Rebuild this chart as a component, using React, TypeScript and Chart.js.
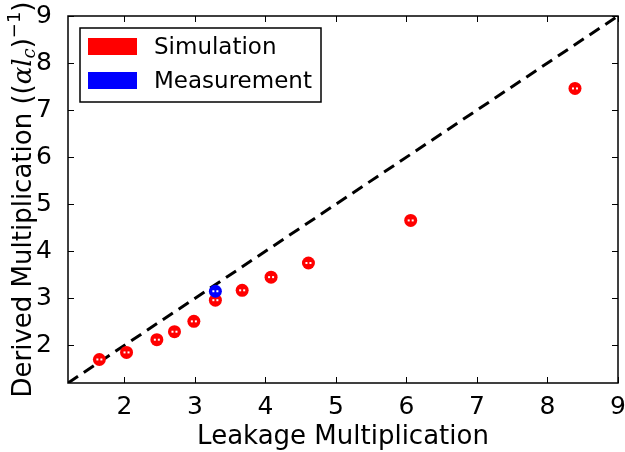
import React, { useEffect, useRef } from "react";
import { Chart, registerables } from "chart.js";

Chart.register(...registerables);

// Leakage vs. derived multiplication values
const simulationX = [1.645, 2.03, 2.46, 2.71, 2.985, 3.29, 3.67, 4.08, 4.61, 6.06, 8.39];
const simulationY = [1.7, 1.85, 2.12, 2.29, 2.51, 2.96, 3.17, 3.45, 3.75, 4.655, 7.46];
const measurementX = [3.29];
const measurementY = [3.15];

// Identity reference line endpoints
const identityLine = [1.2, 9];

const xTicks = [2, 3, 4, 5, 6, 7, 8, 9];
const yTicks = [2, 3, 4, 5, 6, 7, 8, 9];
const axisMin = 1.2;
const axisMax = 9;

const legendItems = [
  { label: "Simulation", color: "#ff0000" },
  { label: "Measurement", color: "#0000ff" },
];

const FONT = '"DejaVu Sans", sans-serif';

const decorPlugin = {
  id: "decor",
  afterDatasetsDraw(chart: any) {
    const ctx = chart.ctx;
    // tiny white error-bar marks inside each marker
    ctx.save();
    ctx.fillStyle = "#ffffff";
    [0, 1].forEach((di) => {
      const meta = chart.getDatasetMeta(di);
      meta.data.forEach((el: any) => {
        ctx.fillRect(el.x - 3, el.y - 1, 2, 2);
        ctx.fillRect(el.x + 1, el.y - 1, 2, 2);
      });
    });
    ctx.restore();
  },
  afterDraw(chart: any) {
    const ctx = chart.ctx;
    const { left, right, top, bottom } = chart.chartArea;
    const xs = chart.scales.x;
    const ys = chart.scales.y;
    ctx.save();

    // frame
    ctx.strokeStyle = "#000";
    ctx.lineWidth = 1.5;
    ctx.strokeRect(left, top, right - left, bottom - top);

    // inward ticks on all four sides
    const tl = 6;
    ctx.lineWidth = 1;
    ctx.beginPath();
    xTicks.forEach((v) => {
      const px = Math.round(xs.getPixelForValue(v)) + 0.5;
      ctx.moveTo(px, bottom);
      ctx.lineTo(px, bottom - tl);
      ctx.moveTo(px, top);
      ctx.lineTo(px, top + tl);
    });
    yTicks.forEach((v) => {
      const py = Math.round(ys.getPixelForValue(v)) + 0.5;
      ctx.moveTo(left, py);
      ctx.lineTo(left + tl, py);
      ctx.moveTo(right, py);
      ctx.lineTo(right - tl, py);
    });
    ctx.stroke();

    // legend
    const lx = left + 12;
    const ly = top + 12;
    const lw = 241;
    const lh = 74;
    ctx.fillStyle = "#fff";
    ctx.fillRect(lx, ly, lw, lh);
    ctx.strokeStyle = "#000";
    ctx.lineWidth = 1.5;
    ctx.strokeRect(lx, ly, lw, lh);
    ctx.font = `23px ${FONT}`;
    ctx.textBaseline = "middle";
    ctx.textAlign = "left";
    legendItems.forEach((item, i) => {
      const cy = ly + 18.5 + i * 34;
      ctx.fillStyle = item.color;
      ctx.fillRect(lx + 8, cy - 8.5, 49, 17);
      ctx.fillStyle = "#000";
      ctx.fillText(item.label, lx + 74, cy + 2);
    });

    // x axis title
    ctx.font = `26px ${FONT}`;
    ctx.textAlign = "center";
    ctx.textBaseline = "alphabetic";
    ctx.fillStyle = "#000";
    ctx.fillText("Leakage Multiplication", (left + right) / 2, 444);

    // y axis title with math part
    const parts: { t: string; font: string; dy: number }[] = [
      { t: "Derived Multiplication ((", font: `26px ${FONT}`, dy: 0 },
      { t: "αl", font: `italic 26px "DejaVu Serif", serif`, dy: 0 },
      { t: "c", font: `italic 18px "DejaVu Serif", serif`, dy: 4 },
      { t: ")", font: `26px ${FONT}`, dy: 0 },
      { t: "−1", font: `18px ${FONT}`, dy: -11 },
      { t: ")", font: `26px ${FONT}`, dy: 0 },
    ];
    let total = 0;
    const widths = parts.map((p) => {
      ctx.font = p.font;
      const w = ctx.measureText(p.t).width;
      total += w;
      return w;
    });
    ctx.translate(31, (top + bottom) / 2);
    ctx.rotate(-Math.PI / 2);
    ctx.textAlign = "left";
    let cx = -total / 2;
    parts.forEach((p, i) => {
      ctx.font = p.font;
      ctx.fillText(p.t, cx, p.dy);
      cx += widths[i];
    });
    ctx.restore();
  },
};

export default function App() {
  const ref = useRef<HTMLCanvasElement | null>(null);

  useEffect(() => {
    if (!ref.current) return;
    const chart = new Chart(ref.current, {
      type: "scatter",
      data: {
        datasets: [
          {
            label: "Measurement",
            data: measurementX.map((x, i) => ({ x, y: measurementY[i] })),
            backgroundColor: "#0000ff",
            borderWidth: 0,
            pointRadius: 6.5,
            order: 0,
          },
          {
            label: "Simulation",
            data: simulationX.map((x, i) => ({ x, y: simulationY[i] })),
            backgroundColor: "#ff0000",
            borderWidth: 0,
            pointRadius: 6.5,
            order: 1,
          },
          {
            type: "line",
            label: "identity",
            data: identityLine.map((v) => ({ x: v, y: v })),
            borderColor: "#000",
            borderWidth: 3,
            borderDash: [12, 7],
            pointRadius: 0,
            fill: false,
            order: 2,
          } as any,
        ],
      },
      options: {
        animation: false,
        responsive: false,
        devicePixelRatio: 1,
        layout: { padding: { left: 0, top: 16, right: 7, bottom: 0 } },
        plugins: { legend: { display: false }, tooltip: { enabled: false } },
        scales: {
          x: {
            type: "linear",
            min: axisMin,
            max: axisMax,
            grid: { display: false },
            border: { display: false },
            afterBuildTicks: (s: any) => {
              s.ticks = xTicks.map((v) => ({ value: v }));
            },
            afterFit: (s: any) => {
              s.height = 69;
              s.paddingLeft = 0;
              s.paddingRight = 0;
            },
            ticks: {
              color: "#000",
              padding: 1,
              maxRotation: 0,
              autoSkip: false,
              font: { family: FONT, size: 25 },
            },
          },
          y: {
            type: "linear",
            min: axisMin,
            max: axisMax,
            grid: { display: false },
            border: { display: false },
            afterBuildTicks: (s: any) => {
              s.ticks = yTicks.map((v) => ({ value: v }));
            },
            afterFit: (s: any) => {
              s.width = 68;
              s.paddingTop = 0;
              s.paddingBottom = 0;
            },
            ticks: {
              color: "#000",
              padding: 8,
              autoSkip: false,
              font: { family: FONT, size: 25 },
            },
          },
        },
      },
      plugins: [decorPlugin],
    });
    return () => chart.destroy();
  }, []);

  return (
    <div style={{ position: "fixed", left: 0, top: 0, width: 625, height: 452, background: "#fff" }}>
      <canvas ref={ref} width={625} height={452} />
    </div>
  );
}
